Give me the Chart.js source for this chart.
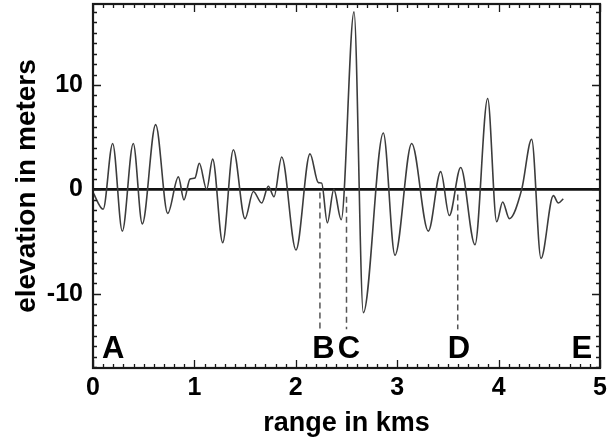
<!DOCTYPE html>
<html>
<head>
<meta charset="utf-8">
<script src="https://cdn.jsdelivr.net/npm/chart.js@4.4.1/dist/chart.umd.min.js"></script>
<style>
  html, body { margin: 0; padding: 0; background: #fff; }
</style>
</head>
<body>
<canvas id="profile" width="607" height="441"></canvas>
<script>
// profile (km, m)
const rangeKm = [0.00, 0.10, 0.194, 0.289, 0.397, 0.486, 0.618, 0.737, 0.842, 0.897,
  0.957, 1.006, 1.048, 1.121, 1.180, 1.279, 1.384, 1.499, 1.581, 1.664,
  1.729, 1.785, 1.861, 2.002, 2.140, 2.222, 2.255, 2.311, 2.375, 2.448,
  2.574, 2.666, 2.863, 2.978, 3.143, 3.307, 3.429, 3.514, 3.626, 3.767,
  3.892, 3.981, 4.040, 4.106, 4.228, 4.326, 4.418, 4.540, 4.589, 4.638];
const elevationM = [-0.3, -1.9, 4.4, -4.0, 4.4, -3.3, 6.2, -2.3, 1.2, -1.0,
  1.0, 1.1, 2.5, 0.0, 2.9, -5.1, 3.8, -2.8, -0.2, -1.3,
  0.3, -0.7, 3.1, -5.8, 3.4, 0.65, 0.6, -3.2, 0.0, -2.9,
  17.0, -11.8, 5.4, -6.3, 4.4, -4.0, 1.7, -2.5, 2.1, -5.3,
  8.7, -3.1, -1.2, -2.8, 0.0, 4.8, -6.6, -0.6, -1.3, -0.9];

const xTicks = [0, 1, 2, 3, 4, 5];
const yTicks = [-10, 0, 10];

// dashed markers B, C, D
const markerKm = [2.238, 2.50, 3.597];
const markerTop = [-0.3, -0.7, -0.5];
const markerBottom = -13.4;

// letter labels along the bottom
const pointLabels = ['A', 'B', 'C', 'D', 'E'];
const pointLabelKm = [0.20, 2.273, 2.525, 3.61, 4.82];
const pointLabelElev = -16.1;

const FONT = '"Liberation Sans", Arial, sans-serif';

const frameAndTicks = {
    id: 'frameAndTicks',
    afterDatasetsDraw(chart) {
        const ctx = chart.ctx;
        const a = chart.chartArea;
        const x = chart.scales.x;
        const y = chart.scales.y;
        ctx.save();
        ctx.strokeStyle = '#1a1a1a';
        ctx.lineWidth = 1.3;
        ctx.beginPath();
        // x ticks every 0.1 km, top and bottom
        for (let i = 0; i <= 50; i++) {
            const px = Math.round(x.getPixelForValue(i / 10)) + 0.5;
            const len = i % 10 === 0 ? 8 : 4;
            ctx.moveTo(px, a.bottom); ctx.lineTo(px, a.bottom - len);
            ctx.moveTo(px, a.top); ctx.lineTo(px, a.top + len);
        }
        // y ticks every 1 m, left and right
        for (let v = -17; v <= 17; v++) {
            const py = Math.round(y.getPixelForValue(v)) + 0.5;
            const len = v % 10 === 0 ? 8 : 4;
            ctx.moveTo(a.left, py); ctx.lineTo(a.left + len, py);
            ctx.moveTo(a.right, py); ctx.lineTo(a.right - len, py);
        }
        ctx.stroke();
        ctx.lineWidth = 2.2;
        ctx.strokeRect(a.left, a.top, a.right - a.left, a.bottom - a.top);

        ctx.fillStyle = '#000';
        ctx.font = 'bold 31px ' + FONT;
        ctx.textAlign = 'center';
        ctx.textBaseline = 'alphabetic';
        pointLabels.forEach((t, i) => {
            ctx.fillText(t, x.getPixelForValue(pointLabelKm[i]), y.getPixelForValue(pointLabelElev));
        });
        ctx.restore();
    }
};

const markerSets = markerKm.map((km, i) => ({
    data: [{ x: km, y: markerTop[i] }, { x: km, y: markerBottom }],
    borderColor: '#555',
    borderWidth: 1.5,
    borderDash: [6, 4],
    pointRadius: 0
}));

new Chart(document.getElementById('profile'), {
    type: 'line',
    data: {
        datasets: [
            {
                data: rangeKm.map((km, i) => ({ x: km, y: elevationM[i] })),
                borderColor: '#3c3c3c',
                borderWidth: 1.6,
                pointRadius: 0,
                cubicInterpolationMode: 'monotone'
            },
            {
                data: [{ x: 0, y: 0 }, { x: 5, y: 0 }],
                borderColor: '#111',
                borderWidth: 2.6,
                pointRadius: 0
            },
            ...markerSets
        ]
    },
    options: {
        responsive: false,
        animation: false,
        layout: { padding: { top: 4, right: 7, left: 0, bottom: 0 } },
        plugins: { legend: { display: false }, tooltip: { enabled: false } },
        scales: {
            x: {
                type: 'linear',
                min: 0,
                max: 5,
                afterBuildTicks: s => { s.ticks = xTicks.map(v => ({ value: v })); },
                afterFit: s => { s.height = 73; s.paddingLeft = 0; s.paddingRight = 0; },
                grid: { display: false, drawTicks: false },
                border: { display: false },
                ticks: {
                    color: '#000',
                    padding: 5,
                    maxRotation: 0,
                    font: { family: FONT, size: 25, weight: 'bold' }
                },
                title: {
                    display: true,
                    text: 'range in kms',
                    color: '#000',
                    padding: { top: 0, bottom: 1 },
                    font: { family: FONT, size: 27, weight: 'bold' }
                }
            },
            y: {
                min: -17.1,
                max: 17.75,
                afterBuildTicks: s => { s.ticks = yTicks.map(v => ({ value: v })); },
                afterFit: s => { s.width = 93; s.paddingTop = 0; s.paddingBottom = 0; },
                grid: { display: false, drawTicks: false },
                border: { display: false },
                ticks: {
                    color: '#000',
                    padding: 10,
                    font: { family: FONT, size: 25, weight: 'bold' }
                },
                title: {
                    display: true,
                    text: 'elevation in meters',
                    color: '#000',
                    padding: { top: 10, bottom: 0 },
                    font: { family: FONT, size: 28, weight: 'bold' }
                }
            }
        }
    },
    plugins: [frameAndTicks]
});
</script>
</body>
</html>
